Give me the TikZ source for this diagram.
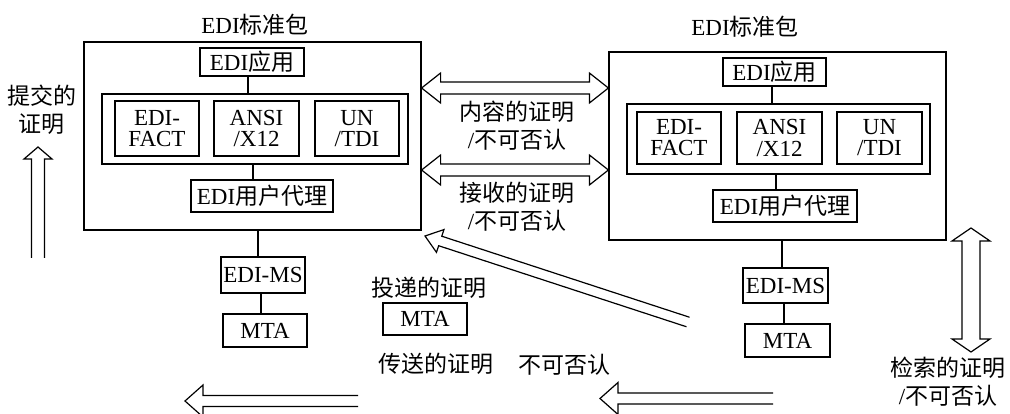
\documentclass[tikz,border=0pt]{standalone}
\usepackage{fontspec}
\setmainfont{Liberation Serif}
\newfontfamily\cjk{Noto Sans CJK SC}
\newcommand\zh[1]{{\cjk #1}}
\usetikzlibrary{calc}
\tikzset{
  box/.style={draw, line width=1.2pt, inner sep=0pt, font=\fontsize{23}{21}\selectfont, align=center},
  lbl/.style={inner sep=0pt, font=\fontsize{23}{28}\selectfont, align=center},
  link/.style={line width=1.2pt},
  hollow/.style={draw, line width=1.2pt, line join=miter},
}
% single-headed hollow arrow: tail, tip, shaft half width, head half width, head length
\newcommand\singlearrow[5]{%
  \draw[hollow] ($(#1)!#3!90:(#2)$) -- ($(#2)!#5!(#1)!#3!90:(#2)$) -- ($(#2)!#5!(#1)!#4!90:(#2)$) -- (#2)
    -- ($(#2)!#5!(#1)!#4!-90:(#2)$) -- ($(#2)!#5!(#1)!#3!-90:(#2)$) -- ($(#1)!#3!-90:(#2)$);
}
% double-headed hollow arrow
\newcommand\doublearrow[5]{%
  \draw[hollow] (#1) -- ($(#1)!#5!(#2)!#4!90:(#2)$) -- ($(#1)!#5!(#2)!#3!90:(#2)$)
    -- ($(#2)!#5!(#1)!#3!-90:(#1)$) -- ($(#2)!#5!(#1)!#4!-90:(#1)$) -- (#2)
    -- ($(#2)!#5!(#1)!#4!90:(#1)$) -- ($(#2)!#5!(#1)!#3!90:(#1)$)
    -- ($(#1)!#5!(#2)!#3!-90:(#2)$) -- ($(#1)!#5!(#2)!#4!-90:(#2)$) -- cycle;
}
\begin{document}
\begin{tikzpicture}[x=1pt,y=-1pt]
\useasboundingbox (0,0) rectangle (1010,414);

% ---- left package ----
\node[lbl] (Ltitle) at (255,25) {EDI\zh{标准包}};
\node[box, minimum width=337, minimum height=188] (L) at (252.5,136) {};
\node[box, minimum width=104, minimum height=28] (Lapp) at (252,62) {EDI\zh{应用}};
\node[box, minimum width=306, minimum height=70] (Lgrp) at (255,129) {};
\node[box, minimum width=84, minimum height=55] (Lfact) at (157,128.5) {EDI-\\FACT};
\node[box, minimum width=85, minimum height=55] (Lansi) at (256.5,128.5) {ANSI\\/X12};
\node[box, minimum width=84, minimum height=55] (Lun) at (357,128.5) {UN\\/TDI};
\node[box, minimum width=142, minimum height=32] (Lua) at (262,196) {EDI\zh{用户代理}};
\node[box, minimum width=84, minimum height=36] (Lms) at (263,275) {EDI-MS};
\node[box, minimum width=84, minimum height=33] (Lmta) at (265,330.5) {MTA};
\draw[link] (Lapp.south -| 248,0) -- (Lgrp.north -| 248,0);
\draw[link] (Lgrp.south -| 253,0) -- (Lua.north -| 253,0);
\draw[link] (L.south -| 258,0) -- (Lms.north -| 258,0);
\draw[link] (Lms.south -| 261,0) -- (Lmta.north -| 261,0);

% ---- right package ----
\node[lbl] (Rtitle) at (745,27) {EDI\zh{标准包}};
\node[box, minimum width=337, minimum height=188] (R) at (777.5,146) {};
\node[box, minimum width=103, minimum height=28] (Rapp) at (774.5,72) {EDI\zh{应用}};
\node[box, minimum width=303, minimum height=70] (Rgrp) at (778.5,139) {};
\node[box, minimum width=84, minimum height=52] (Rfact) at (679,138) {EDI-\\FACT};
\node[box, minimum width=85, minimum height=52] (Ransi) at (779.5,138) {ANSI\\/X12};
\node[box, minimum width=85, minimum height=52] (Run) at (879.5,138) {UN\\/TDI};
\node[box, minimum width=144, minimum height=32] (Rua) at (785,206) {EDI\zh{用户代理}};
\node[box, minimum width=85, minimum height=35] (Rms) at (785.5,285.5) {EDI-MS};
\node[box, minimum width=85, minimum height=33] (Rmta) at (787.5,340.5) {MTA};
\draw[link] (Rapp.south -| 772,0) -- (Rgrp.north -| 772,0);
\draw[link] (Rgrp.south -| 776,0) -- (Rua.north -| 776,0);
\draw[link] (R.south -| 782,0) -- (Rms.north -| 782,0);
\draw[link] (Rms.south -| 784,0) -- (Rmta.north -| 784,0);

% ---- middle ----
\node[lbl] (deliv) at (429,288) {\zh{投递的证明}};
\node[box, minimum width=84, minimum height=32] (Mmta) at (425,319) {MTA};
\node[lbl] (trans) at (436,364) {\zh{传送的证明}};
\node[lbl] (nonrep) at (564,365) {\zh{不可否认}};
\node[lbl] (content) at (517,126) {\zh{内容的证明}\\/\zh{不可否认}};
\node[lbl] (receipt) at (517,207) {\zh{接收的证明}\\/\zh{不可否认}};
\node[lbl] (submit) at (42,110) {\zh{提交的}\\\zh{证明}};
\node[lbl] (retr) at (948,382) {\zh{检索的证明}\\/\zh{不可否认}};

% ---- hollow arrows ----
\coordinate (ca) at (L.east |- 0,88);
\coordinate (cb) at (R.west |- 0,88);
\doublearrow{ca}{cb}{6pt}{15pt}{19pt}
\coordinate (ra) at (L.east |- 0,170);
\coordinate (rb) at (R.west |- 0,170);
\doublearrow{ra}{rb}{6pt}{15pt}{19pt}
\coordinate (ta) at (971,228);
\coordinate (tb) at (971,352);
\doublearrow{ta}{tb}{9pt}{19pt}{13pt}
\coordinate (sTail) at (38,258);
\coordinate (sTip) at (38,147);
\singlearrow{sTail}{sTip}{6.5pt}{14pt}{12pt}
\coordinate (dTail) at (688,322);
\coordinate (dTip) at (425,236);
\singlearrow{dTail}{dTip}{5pt}{12pt}{16pt}
\coordinate (b1Tail) at (358,401);
\coordinate (b1Tip) at (185,401);
\singlearrow{b1Tail}{b1Tip}{5.5pt}{16pt}{18pt}
\coordinate (b2Tail) at (773,398.5);
\coordinate (b2Tip) at (600,398.5);
\singlearrow{b2Tail}{b2Tip}{5.5pt}{16pt}{18pt}
\end{tikzpicture}
\end{document}
